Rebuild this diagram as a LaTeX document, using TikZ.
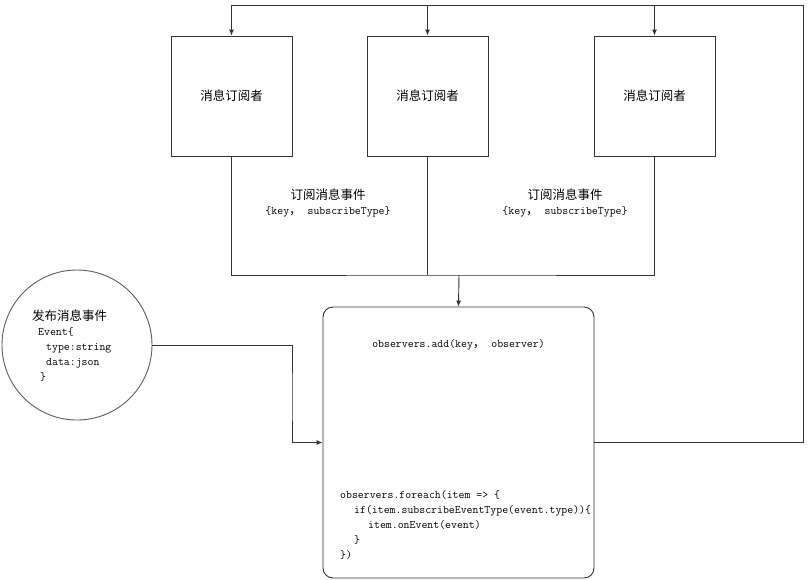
\documentclass[tikz,border=0pt]{standalone}
\usepackage{fontspec}
\newfontfamily\cjk{Noto Sans CJK SC}
\newcommand{\zh}[1]{{\cjk\fontsize{12.5}{15}\selectfont #1}}
\usetikzlibrary{arrows.meta}
\definecolor{linegray}{HTML}{333333}

\begin{document}
\begin{tikzpicture}[x=1pt, y=-1pt,
	subbox/.style = {draw=linegray, line width=0.9pt, minimum width=121pt, minimum height=120pt, inner sep=0pt},
	link/.style = {draw=linegray, line width=0.9pt},
	tip/.style = {link, -{Latex[length=6pt, width=5pt]}},
	code/.style = {font=\ttfamily\fontsize{11.5}{15}\selectfont, align=left, inner sep=0pt}]
	\useasboundingbox (0,0) rectangle (809,579);

	% subscribers
	\node [subbox] (sub1) at (231.5, 96) {\zh{消息订阅者}};
	\node [subbox] (sub2) at (427.5, 96) {\zh{消息订阅者}};
	\node [subbox] (sub3) at (654.5, 96) {\zh{消息订阅者}};

	% observer list and event
	\node [draw=linegray, line width=0.9pt, rounded corners=10pt, minimum width=271pt, minimum height=271pt] (obs) at (458.5, 442.5) {};
	\node [draw=linegray!80, line width=0.9pt, circle, minimum size=150pt] (pub) at (77, 345) {};

	\node [code] (addtxt) at (458.5, 345) {observers.add(key\zh{，} observer)};
	\node [code, anchor=west] (looptxt) at (340, 525) {observers.foreach(item => \{\\\hspace*{14pt}if(item.subscribeEventType(event.type))\{\\\hspace*{28pt}item.onEvent(event)\\\hspace*{14pt}\}\\\})};
	\node [code, anchor=west] (evttxt) at (32, 346) {\zh{发布消息事件}\\\hspace*{6pt}Event\{\\\hspace*{14pt}type:string\\\hspace*{14pt}data:json\\\hspace*{8pt}\}};

	\node [code, align=center] (lbl1) at (328, 202.5) {\zh{订阅消息事件}\\\{key\zh{，} subscribeType\}};
	\node [code, align=center] (lbl2) at (565, 202.5) {\zh{订阅消息事件}\\\{key\zh{，} subscribeType\}};

	% connectors
	\coordinate (ret) at (803, 5);
	\coordinate (bus) at (459, 275);
	\coordinate (bend) at (292, 400);

	\draw [tip] (obs.east) -| (ret) -| (sub1.north);
	\draw [tip] (sub2.north |- ret) -- (sub2.north);
	\draw [tip] (sub3.north |- ret) -- (sub3.north);

	\draw [link] (sub1.south) |- (bus) -| (sub3.south);
	\draw [link] (sub2.south) -- (sub2.south |- bus);
	\draw [tip] (bus) -- (obs.north);

	\draw [tip] (pub.east) -| (bend) |- (obs.west);
\end{tikzpicture}
\end{document}
